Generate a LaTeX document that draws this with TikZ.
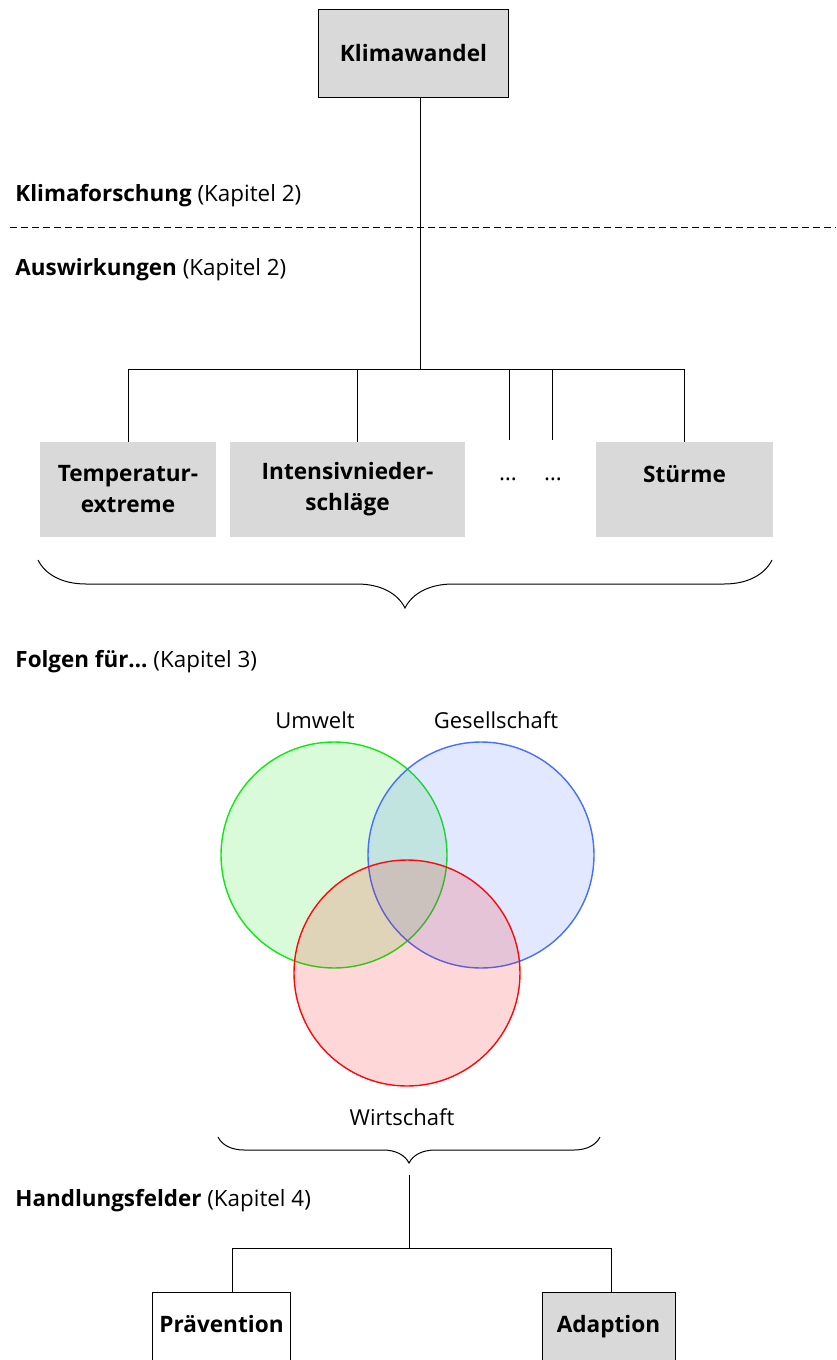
\documentclass[tikz,border=0pt]{standalone}
\usepackage{fontspec}
\setmainfont{Open Sans}
\usetikzlibrary{decorations.pathreplacing}

\definecolor{umweltgreen}{RGB}{20,230,20}
\definecolor{gesellblue}{RGB}{70,110,255}
\definecolor{wirtred}{RGB}{250,10,10}

\tikzset{
  boxtext/.style={align=center, font=\bfseries\fontsize{11.3}{15.5}\selectfont},
  graybox/.style={boxtext, fill=black!15, minimum height=47.5pt},
  framebox/.style={boxtext, draw, minimum height=47.5pt},
  sectionlabel/.style={anchor=west, inner sep=0pt, font=\fontsize{11.2}{13}\selectfont},
  setlabel/.style={inner sep=0pt, font=\fontsize{11}{13}\selectfont},
  setcircle/.style={circle, draw, line width=0.7pt, minimum size=113pt, fill opacity=0.16},
  curly/.style={decorate, decoration={brace, amplitude=#1}},
}

\begin{document}
\begin{tikzpicture}[x=0.5pt, y=-0.5pt, line width=0.5pt]

\useasboundingbox (0,0) rectangle (836,1360);
\clip (0,0) rectangle (836,1360);

% top
\node[boxtext, draw, fill=black!15, minimum width=95pt, minimum height=44pt] (klima) at (413.5,53) {Klimawandel};

\node[sectionlabel] (forschung) at (15,196) {\textbf{Klimaforschung} (Kapitel 2)};
\node[sectionlabel] (auswirk) at (15,270) {\textbf{Auswirkungen} (Kapitel 2)};
\path[draw, dash pattern=on 3.5pt off 2pt] (10,227) -- (836,227);

% auswirkungen
\node[graybox, minimum width=88pt] (temp) at (128,489.5) {Temperatur-\\extreme};
\node[graybox, minimum width=117.5pt] (nieder) at (347.5,489.5) {Intensivnieder-\\schläge};
\node[boxtext, font=\fontsize{11.3}{15.5}\selectfont] (dotsA) at (508,479) {…};
\node[boxtext, font=\fontsize{11.3}{15.5}\selectfont] (dotsB) at (553,479) {…};
\node[graybox, minimum width=88.5pt] (stuerme) at (684.5,489.5) {Stürme\\~};

\coordinate (hub) at (420,369);
\coordinate (nd) at (357,0);
\coordinate (da) at (509,440);
\coordinate (db) at (552,440);
\path[draw] (klima.south -| hub) -- (hub);
\path[draw] (temp.north) |- (stuerme.north |- hub) -- (stuerme.north);
\path[draw] (nieder.north -| nd) -- (nd |- hub);
\path[draw] (da) -- (da |- hub);
\path[draw] (db) -- (db |- hub);

\path[draw, curly=24pt] (772,560) -- (38,560);

% folgen
\node[sectionlabel] (folgen) at (15,662) {\textbf{Folgen für…} (Kapitel 3)};

\node[setcircle, draw=umweltgreen, fill=umweltgreen] (cumwelt) at (334,855) {};
\node[setcircle, draw=gesellblue, fill=gesellblue] (cgesell) at (481,855) {};
\node[setcircle, draw=wirtred, fill=wirtred] (cwirt) at (407,973) {};

\node[setlabel] (umwelt) at (315,720) {Umwelt};
\node[setlabel] (gesell) at (496,720) {Gesellschaft};
\node[setlabel] (wirt) at (402,1117) {Wirtschaft};

\path[draw, curly=13pt] (600,1137) -- (218,1137);

% handlungsfelder
\node[sectionlabel] (handlung) at (15,1201) {\textbf{Handlungsfelder} (Kapitel 4)};

\node[framebox, minimum width=66.5pt] (praev) at (221.5,1339.5) {Prävention\\~};
\node[framebox, fill=black!15, minimum width=66.5pt] (adapt) at (608.5,1339.5) {Adaption\\~};

\coordinate (stem) at (409,1175);
\coordinate (hub2) at (409,1248);
\coordinate (pl) at (232,1248);
\coordinate (pr) at (611,1248);
\path[draw] (stem) -- (hub2);
\path[draw] (praev.north -| pl) |- (pr) -- (adapt.north -| pr);

\end{tikzpicture}
\end{document}
